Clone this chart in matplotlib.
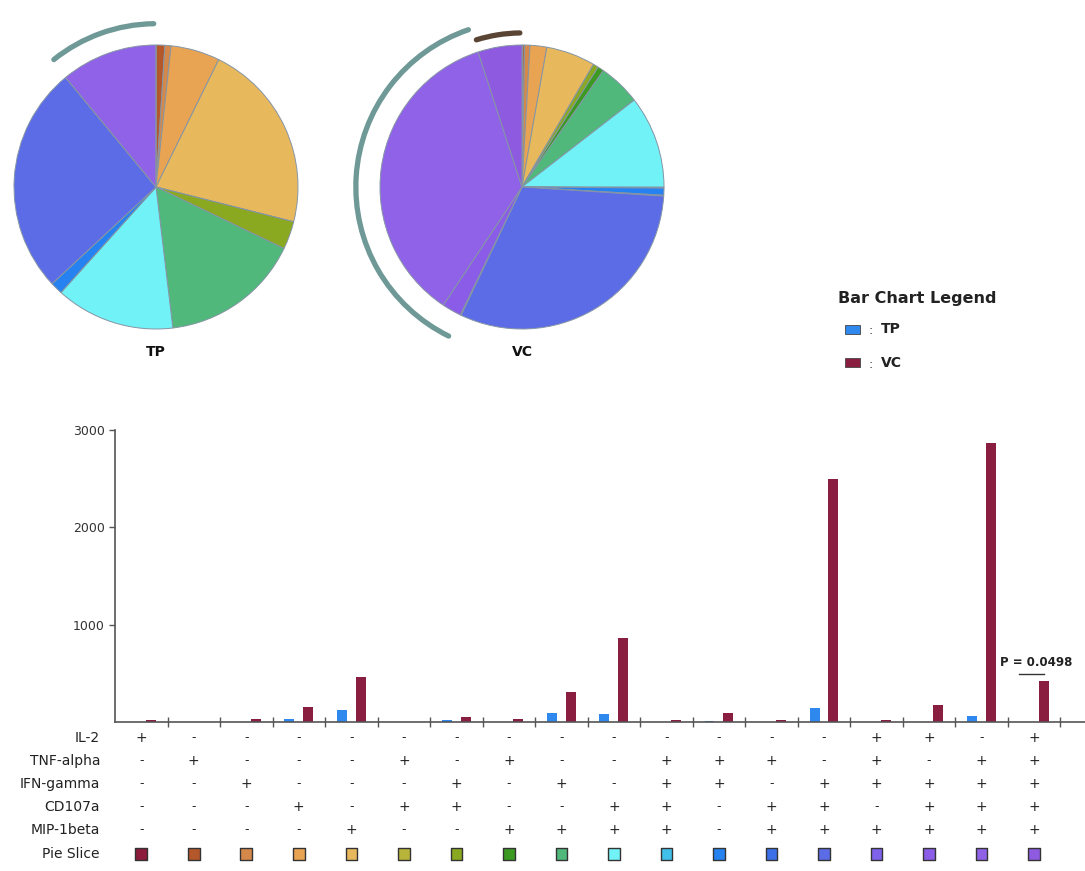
import matplotlib
matplotlib.use("Agg")
import matplotlib.pyplot as plt
from matplotlib.patches import Arc, Rectangle
from matplotlib.transforms import blended_transform_factory
import numpy as np

# ---- data -------------------------------------------------------------
groups = ["TP", "VC"]

# mean response per functional subset (bar chart)
tp_values = [0, 5, 4, 31, 124, 0, 18, 0, 91, 78, 0, 8, 0, 148, 0, 0, 63, 0]
vc_values = [20, 0, 30, 155, 460, 0, 55, 35, 310, 865, 20, 95, 20, 2500, 20, 175, 2870, 425]

# pie slice shares (percent of total response)
tp_pie = [0.0, 1.0, 0.7, 5.6, 21.7, 0.0, 3.2, 0.0, 16.0, 13.6, 0.0, 1.4, 0.0, 26.0, 0.0, 0.0, 11.0, 0.0]
vc_pie = [0.1, 0.2, 0.6, 1.9, 5.6, 0.0, 0.6, 0.7, 4.8, 10.5, 0.1, 0.8, 0.1, 31.0, 0.1, 2.2, 35.6, 5.0]

markers = ["IL-2", "TNF-alpha", "IFN-gamma", "CD107a", "MIP-1beta"]
il2     = "+-------------++-+"
tnf     = "-+---+-+--+++-+-++"
ifng    = "--+---+-+-++-+++++"
cd107a  = "---+-++--++-++-+++"
mip1b   = "----+--++++-++++++"

slice_colors = ["#8C1B3C", "#B4582C", "#D4884A", "#E8A452", "#E8B85C", "#B8B43A",
                "#8AA820", "#3C9A22", "#4FB87A", "#70F2F6", "#40C0EA", "#2582F0",
                "#3C70E8", "#5C6CE6", "#7E62EC", "#8A5CE8", "#9062E8", "#8E5AE0"]

p_label = "P = 0.0498"

tp_color = "#2F88EE"
vc_color = "#8A1E40"
arc_gray = "#6F9997"
arc_brown = "#5A4434"

# ---- figure -----------------------------------------------------------
W, H = 1085, 871
fig = plt.figure(figsize=(W / 100, H / 100), dpi=100)
fig.patch.set_facecolor("white")


def fx(x):
    return x / W


def fy(y):
    return 1 - y / H


R_PX = 142
LIM = 1.22


def draw_pie(cx, cy, shares, label, arcs):
    half = R_PX * LIM
    ax = fig.add_axes([fx(cx - half), fy(cy + half), 2 * half / W, 2 * half / H])
    ax.pie(shares, colors=slice_colors, startangle=90, counterclock=False, radius=1,
           wedgeprops=dict(edgecolor="#8595a5", linewidth=0.7))
    ax.set_xlim(-LIM, LIM)
    ax.set_ylim(-LIM, LIM)
    ax.set_aspect("equal")
    ax.axis("off")
    cum = np.concatenate([[0], np.cumsum(shares)]) / np.sum(shares) * 360.0
    for first, last, radius, color in arcs:
        a1 = cum[first] + 0.8
        a2 = cum[last + 1] - 0.8
        ax.add_patch(Arc((0, 0), 2 * radius, 2 * radius, theta1=90 - a2, theta2=90 - a1,
                         color=color, linewidth=3.8, capstyle="round"))
    fig.text(fx(cx), fy(352), label, ha="center", va="center",
             fontsize=10, fontweight="bold", color="#111111")


draw_pie(156, 187, tp_pie, groups[0], [(16, 16, 1.15, arc_gray)])
draw_pie(522, 187, vc_pie, groups[1], [(14, 16, 1.17, arc_gray), (17, 17, 1.085, arc_brown)])

# ---- legend -----------------------------------------------------------
fig.text(fx(838), fy(299), "Bar Chart Legend", fontsize=11.5, fontweight="bold",
         color="#222222", va="center")
for ypix, name, col in [(329, groups[0], tp_color), (363, groups[1], vc_color)]:
    fig.add_artist(Rectangle((fx(845), fy(ypix + 4.5)), 15 / W, 9 / H, transform=fig.transFigure,
                             facecolor=col, edgecolor="#444444", linewidth=0.6))
    fig.text(fx(868), fy(ypix + 1), ":", fontsize=9, color="#333333", va="center")
    fig.text(fx(881), fy(ypix), name, fontsize=10, fontweight="bold", color="#222222", va="center")

# ---- bar chart --------------------------------------------------------
n = len(vc_values)
ax = fig.add_axes([fx(115), fy(722), (W - 115) / W, (722 - 430) / H])
x = np.arange(n) + 0.5
bw = 0.19
ax.bar(x - 0.18, tp_values, width=bw, color=tp_color, edgecolor="none")
ax.bar(x + 0.18, vc_values, width=bw, color=vc_color, edgecolor="none")
ax.set_xlim(0, n + 0.47)
ax.set_ylim(0, 3000)
for s in ["top", "right"]:
    ax.spines[s].set_visible(False)
for s in ["left", "bottom"]:
    ax.spines[s].set_color("#555555")
    ax.spines[s].set_linewidth(1.2)
ax.set_xticks(np.arange(1, n + 1))
ax.set_xticklabels([])
ax.tick_params(axis="x", direction="inout", length=7, width=1, color="#555555")
ax.set_yticks([1000, 2000, 3000])
ax.tick_params(axis="y", direction="out", length=4, width=1, color="#555555",
               labelsize=9, labelcolor="#333333")

# significance marker over the last subset
ax.plot([x[-1] - 0.28, x[-1] + 0.18], [495, 495], color="#333333", linewidth=1)
ax.text(x[-1] + 0.05, 545, p_label, ha="center", va="bottom", fontsize=8.5,
        fontweight="bold", color="#222222")

# ---- marker table -----------------------------------------------------
trans = blended_transform_factory(ax.transData, fig.transFigure)
row_y = [738, 761, 784, 807, 830]
for name, signs, ypix in zip(markers, [il2, tnf, ifng, cd107a, mip1b], row_y):
    fig.text(fx(100), fy(ypix), name, ha="right", va="center", fontsize=10, color="#222222")
    for xi, sgn in zip(x, signs):
        ax.text(xi, fy(ypix), sgn, transform=trans, ha="center", va="center",
                fontsize=10 if sgn == "+" else 9, color="#222222", clip_on=False)

fig.text(fx(100), fy(854), "Pie Slice", ha="right", va="center", fontsize=10, color="#222222")
ax.scatter(x, [fy(854)] * n, transform=trans, marker="s", s=70, c=slice_colors,
           edgecolors="#333333", linewidths=1.0, clip_on=False, zorder=5)

fig.savefig("out.png", dpi=100, facecolor="white")
